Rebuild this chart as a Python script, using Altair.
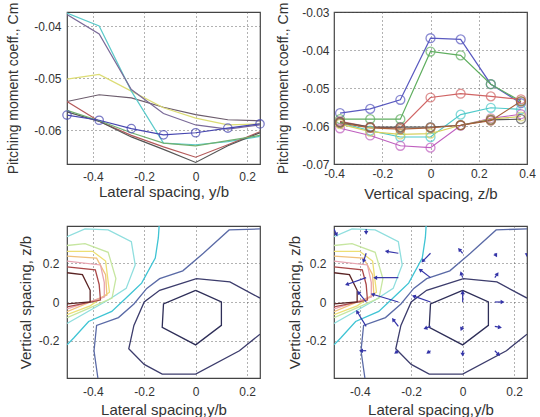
import math
import pandas as pd
import altair as alt

FONT = "Liberation Sans"

# ---------------- top-left: Cm vs lateral spacing ----------------
yb = [-0.5, -0.375, -0.25, -0.125, 0.0, 0.125, 0.25]
tl_dark = [-0.0545, -0.0532, -0.0538, -0.0556, -0.0570, -0.0580, -0.0582]
tl_yellow = [-0.0502, -0.0493, -0.0525, -0.0557, -0.0577, -0.0590, -0.0588]
tl_cyan = [-0.0375, -0.0400, -0.0525, -0.0625, -0.0628, -0.0622, -0.0612]
tl_purple = [-0.0378, -0.0415, -0.0522, -0.0568, -0.0590, -0.0598, -0.0590]
tl_red = [-0.0545, -0.0583, -0.0610, -0.0632, -0.0652, -0.0628, -0.0603]
tl_black = [-0.0565, -0.0583, -0.0613, -0.0637, -0.0662, -0.0630, -0.0605]
tl_green = [-0.0562, -0.0582, -0.0605, -0.0625, -0.0630, -0.0620, -0.0610]
tl_marker = [-0.0571, -0.0581, -0.0597, -0.0609, -0.0605, -0.0596, -0.0588]
tl_names = ["dark", "yellow", "cyan", "purple", "red", "black", "green", "marker"]
tl_colors = ["#6c5c6c", "#dcdc74", "#5ccaca", "#7a6a98", "#b45a5a", "#555555", "#70b070", "#4646b0"]
tl_vals = [tl_dark, tl_yellow, tl_cyan, tl_purple, tl_red, tl_black, tl_green, tl_marker]

# ---------------- top-right: Cm vs vertical spacing ----------------
zb = [-0.375, -0.25, -0.125, 0.0, 0.125, 0.25, 0.375]
tr_blue = [-0.0566, -0.0555, -0.0531, -0.0369, -0.0372, -0.0490, -0.0540]
tr_green = [-0.0582, -0.0582, -0.0582, -0.0404, -0.0414, -0.0490, -0.0535]
tr_red = [-0.0588, -0.0603, -0.0605, -0.0525, -0.0515, -0.0522, -0.0530]
tr_cyan = [-0.0592, -0.0612, -0.0629, -0.0629, -0.0570, -0.0552, -0.0556]
tr_magenta = [-0.0606, -0.0625, -0.0652, -0.0657, -0.0599, -0.0580, -0.0569]
tr_yellow = [-0.0595, -0.0615, -0.0622, -0.0620, -0.0598, -0.0582, -0.0575]
tr_black = [-0.0590, -0.0603, -0.0603, -0.0603, -0.0598, -0.0584, -0.0582]
tr_brown = [-0.0592, -0.0605, -0.0608, -0.0605, -0.0598, -0.0586, -0.0535]
tr_names = ["t_blue", "t_green", "t_red", "t_cyan", "t_magenta", "t_yellow", "t_black", "t_brown"]
tr_colors = ["#5a5ac0", "#5fae5f", "#d06464", "#4fcaca", "#bf5fbf", "#d8d060", "#555555", "#a8603a"]
tr_vals = [tr_blue, tr_green, tr_red, tr_cyan, tr_magenta, tr_yellow, tr_black, tr_brown]

# ---------------- bottom: contour lines of Cm over (y/b, z/b) ----------------
c_names = ["hex", "ring", "c_blue", "c_cyan", "c_lcyan", "c_pgreen", "c_yellow", "c_orange", "c_pink", "c_red", "c_dred"]
c_colors = ["#2e2e58", "#3c3c6c", "#5a6aa6", "#3fc4d4", "#8fdede", "#c6e6a0", "#ecdf74", "#f0c07c", "#e8a4b0", "#aa4848", "#5a2424"]
hex_y = [0.0, 0.1, 0.1, 0.0, -0.13, -0.125, 0.0]
hex_z = [0.06, 0.0, -0.12, -0.22, -0.13, -0.01, 0.06]
ring_y = [0.25, 0.133, 0.003, -0.14, -0.2, -0.24, -0.26, -0.2, -0.13, 0.0, 0.17, 0.25]
ring_z = [0.02, 0.103, 0.12, 0.06, 0.0, -0.12, -0.24, -0.32, -0.37, -0.37, -0.25, -0.165]
blue_y = [0.25, 0.13, 0.03, -0.05, -0.14, -0.19, -0.24, -0.30, -0.385, -0.395, -0.38]
blue_z = [0.375, 0.37, 0.25, 0.16, 0.12, 0.07, -0.01, -0.08, -0.12, -0.25, -0.39]
cyan_y = [-0.142, -0.145, -0.157, -0.21, -0.25, -0.326, -0.416, -0.474, -0.5]
cyan_z = [0.39, 0.33, 0.225, 0.097, 0.046, -0.048, -0.1, -0.185, -0.22]
lcyan_y = [-0.5, -0.43, -0.34, -0.25, -0.235, -0.27, -0.34, -0.42, -0.5]
lcyan_z = [0.335, 0.375, 0.37, 0.31, 0.19, 0.07, 0.01, -0.05, -0.11]
pgreen_y = [-0.5, -0.43, -0.34, -0.31, -0.325, -0.42, -0.5]
pgreen_z = [0.29, 0.30, 0.255, 0.12, 0.02, -0.035, -0.08]
yellow_y = [-0.5, -0.40, -0.35, -0.335, -0.41, -0.5]
yellow_z = [0.26, 0.26, 0.21, 0.05, -0.02, -0.065]
orange_y = [-0.5, -0.385, -0.35, -0.345, -0.5]
orange_z = [0.235, 0.225, 0.14, 0.035, -0.05]
pink_y = [-0.5, -0.37, -0.355, -0.355, -0.5]
pink_z = [0.21, 0.19, 0.1, 0.025, -0.035]
red_y = [-0.5, -0.39, -0.375, -0.37, -0.5]
red_z = [0.18, 0.165, 0.09, 0.01, -0.025]
dred_y = [-0.5, -0.44, -0.41, -0.41, -0.5]
dred_z = [0.15, 0.14, 0.06, 0.0, -0.01]
c_paths = [(hex_y, hex_z), (ring_y, ring_z), (blue_y, blue_z), (cyan_y, cyan_z), (lcyan_y, lcyan_z),
           (pgreen_y, pgreen_z), (yellow_y, yellow_z), (orange_y, orange_z), (pink_y, pink_z),
           (red_y, red_z), (dred_y, dred_z)]

# ---------------- bottom-right quiver arrows (tail position and vector) ----------------
q_y = [-0.5, -0.375, -0.375, -0.25, -0.125, 0.0, 0.125, 0.25,
       -0.375, -0.25, -0.125, 0.0, 0.125,
       -0.375, -0.25, -0.125, 0.0, 0.125,
       -0.375, -0.25, -0.125, 0.0, 0.125,
       -0.375, -0.25, -0.125, 0.0, 0.125]
q_z = [0.375, 0.375, 0.25, 0.25, 0.25, 0.25, 0.25, 0.25,
       0.125, 0.125, 0.125, 0.125, 0.125,
       0.0, 0.0, 0.0, 0.0, 0.0,
       -0.125, -0.125, -0.125, -0.125, -0.125,
       -0.25, -0.25, -0.25, -0.25, -0.25]
q_du = [0.01, 0.0, -0.01, -0.045, -0.03, -0.013, 0.005, 0.0,
        -0.075, -0.09, -0.04, -0.006, 0.01,
        -0.03, -0.10, -0.065, 0.0, 0.03,
        -0.035, -0.02, -0.02, -0.005, 0.02,
        -0.02, -0.01, -0.01, 0.0, 0.015]
q_dz = [-0.03, -0.02, -0.04, 0.01, -0.04, 0.02, -0.012, -0.01,
        -0.035, 0.0, 0.04, 0.023, 0.02,
        0.05, 0.04, 0.03, 0.05, 0.0,
        0.075, 0.035, -0.01, -0.015, -0.005,
        0.0, -0.01, -0.01, -0.02, -0.02]

# ---------------- layout ----------------
W, H = 193, 152
TL_X, TL_Y = [-0.5, 0.25], [-0.0665, -0.0373]
TR_X, TR_Y = [-0.4, 0.4], [-0.07, -0.03]
B_X, B_Y = [-0.5, 0.25], [-0.39, 0.39]

XFMT = "datum.value == 0 ? '0' : (datum.value < 0 ? '-' : '') + format(abs(datum.value), '.1f')"
YFMT2 = "(datum.value < 0 ? '-' : '') + format(abs(datum.value), '.2f')"
YFMT1 = "datum.value == 0 ? '0' : (datum.value < 0 ? '-' : '') + format(abs(datum.value), '.1f')"


def ax(title, values, expr, lp, tp, tsize=15):
    return alt.Axis(title=title, values=values, labelExpr=expr, labelPadding=lp,
                    titlePadding=tp, titleFontSize=tsize, labelFlush=False, labelOverlap=False)


def sc(dom):
    return alt.Scale(domain=dom, nice=False, zero=False)


def long(xs, names, vals):
    rows = []
    for n, v in zip(names, vals):
        for i, (x, c) in enumerate(zip(xs, v)):
            rows.append({"x": x, "cm": c, "s": n, "i": i})
    return pd.DataFrame(rows)


# top-left
df_tl = long(yb, tl_names, tl_vals)
tl_x = alt.X("x:Q", scale=sc(TL_X), axis=ax("Lateral spacing, y/b", [-0.4, -0.2, 0, 0.2], XFMT, 7, 2))
tl_yax = alt.Y("cm:Q", scale=sc(TL_Y),
               axis=ax("Pitching moment coeff., Cm", [-0.06, -0.05, -0.04], YFMT2, 6, 13, 14))
tl_col = alt.Color("s:N", scale=alt.Scale(domain=tl_names, range=tl_colors), legend=None)
tl_lines = alt.Chart(df_tl).mark_line(strokeWidth=1.2, clip=True).encode(
    x=tl_x, y=tl_yax, color=tl_col, order="i:Q")
tl_pts = alt.Chart(df_tl).transform_filter(alt.datum.s == "marker").mark_point(
    shape="circle", filled=False, size=70, strokeWidth=1.3).encode(
    x=tl_x, y=tl_yax, color=tl_col)
tl = alt.layer(tl_lines, tl_pts).properties(width=W, height=H)

# top-right
df_tr = long(zb, tr_names, tr_vals)
tr_x = alt.X("x:Q", scale=sc(TR_X), axis=ax("Vertical spacing, z/b", [-0.4, -0.2, 0, 0.2, 0.4], XFMT, 4, 7))
tr_yax = alt.Y("cm:Q", scale=sc(TR_Y),
               axis=ax("Pitching moment coeff., Cm", [-0.07, -0.06, -0.05, -0.04, -0.03], YFMT2, 5, 11, 14))
tr_col = alt.Color("s:N", scale=alt.Scale(domain=tr_names, range=tr_colors), legend=None)
tr_lines = alt.Chart(df_tr).mark_line(strokeWidth=1.2, clip=True).encode(
    x=tr_x, y=tr_yax, color=tr_col, order="i:Q")
tr_pts = alt.Chart(df_tr).mark_point(shape="circle", filled=False, size=80, strokeWidth=1.3).encode(
    x=tr_x, y=tr_yax, color=tr_col)
tr = alt.layer(tr_lines, tr_pts).properties(width=W, height=H)

# contours
crow = []
for n, (ys, zs) in zip(c_names, c_paths):
    for i, (a, b) in enumerate(zip(ys, zs)):
        crow.append({"y": a, "z": b, "lev": n, "i": i})
df_c = pd.DataFrame(crow)


def contour_layer(xtitle_pad, ytitle_pad):
    bx = alt.X("y:Q", scale=sc(B_X), axis=ax("Lateral spacing,y/b", [-0.4, -0.2, 0, 0.2], XFMT, 8, xtitle_pad))
    by = alt.Y("z:Q", scale=sc(B_Y), axis=ax("Vertical spacing, z/b", [-0.2, 0, 0.2], YFMT1, 8, ytitle_pad))
    return alt.Chart(df_c).mark_line(strokeWidth=1.3, clip=True).encode(
        x=bx, y=by, detail="lev:N", order="i:Q",
        color=alt.Color("lev:N", scale=alt.Scale(domain=c_names, range=c_colors), legend=None))


bl = contour_layer(5, 5).properties(width=W, height=H)

# quiver
kx = W / (B_X[1] - B_X[0])
ky = H / (B_Y[1] - B_Y[0])
qrows = []
for a, b, du, dz in zip(q_y, q_z, q_du, q_dz):
    ang = math.degrees(math.atan2(du * kx, dz * ky)) % 360
    qrows.append({"y": a, "z": b, "y2": a + du, "z2": b + dz, "ang": ang})
df_q = pd.DataFrame(qrows)
q_lines = alt.Chart(df_q).mark_rule(color="#3434a8", strokeWidth=1.2, clip=True).encode(
    x=alt.X("y:Q", scale=sc(B_X)), y=alt.Y("z:Q", scale=sc(B_Y)), x2="y2:Q", y2="z2:Q")
q_heads = alt.Chart(df_q).mark_point(shape="triangle-up", filled=True, color="#3434a8",
                                     size=20, opacity=1, clip=True).encode(
    x=alt.X("y2:Q", scale=sc(B_X)), y=alt.Y("z2:Q", scale=sc(B_Y)),
    angle=alt.Angle("ang:Q", scale=None))
br = alt.layer(contour_layer(5, 3), q_lines, q_heads).properties(width=W, height=H)

chart = alt.concat(
    tl, tr, bl, br, columns=2, spacing={"row": 62, "column": 74}, bounds="flush",
    padding={"left": 6, "top": 1, "right": 0, "bottom": 0},
).resolve_scale(color="independent").configure(background="white").configure_axis(
    labelFont=FONT, titleFont=FONT, labelFontSize=12, titleFontSize=15,
    titleFontWeight="normal", labelColor="#333333", titleColor="#333333",
    grid=True, gridColor="#555555", gridDash=[1, 3], gridOpacity=0.9, gridWidth=1,
    ticks=False, domain=False,
).configure_view(stroke="#444444", strokeWidth=1.2)

chart.save("out.html", embed_options={"renderer": "svg", "actions": False})
